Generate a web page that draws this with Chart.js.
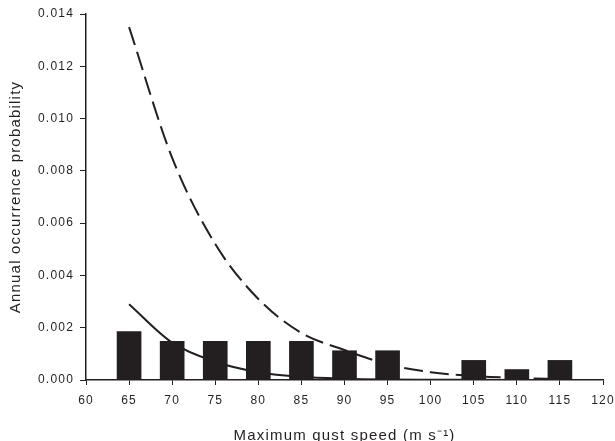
<!DOCTYPE html>
<html>
<head>
<meta charset="utf-8">
<script src="https://cdn.jsdelivr.net/npm/chart.js@4/dist/chart.umd.min.js"></script>
<style>
  html, body { margin: 0; padding: 0; background: #fff; }
  #wrap { width: 615px; height: 441px; }
</style>
</head>
<body>
<div id="wrap"><canvas id="c"></canvas></div>
<script>
const speeds = [65, 70, 75, 80, 85, 90, 95, 100, 105, 110, 115];
const observed = [0.00185, 0.00148, 0.00148, 0.00148, 0.00148, 0.00112, 0.00112, 0, 0.00075, 0.0004, 0.00075];
const solidCurve = [0.0029, 0.00143, 0.0007, 0.0003, 0.00012, 0.00005, 0.00002, 0.00001, 0.000005, 0.000002, 0.000001];
const dashedCurve = [0.0135, 0.0085, 0.0052, 0.0031, 0.0018, 0.00115, 0.0006, 0.0003, 0.00015, 0.00008, 0.00003];
const xTicks = [60, 65, 70, 75, 80, 85, 90, 95, 100, 105, 110, 115, 120];
const yTicks = [0, 0.002, 0.004, 0.006, 0.008, 0.010, 0.012, 0.014];

const ink = '#231f20';
const pts = vals => speeds.map((s, i) => ({ x: s, y: vals[i] }));

Chart.defaults.font.family = '"Liberation Sans", Arial, sans-serif';
Chart.defaults.color = ink;

// the original lettering is set wide
const wideText = {
    id: 'wideText',
    beforeUpdate: chart => { chart.ctx.letterSpacing = '1.2px'; },
    beforeLayout: chart => { chart.ctx.letterSpacing = '1.2px'; },
    beforeDraw: chart => { chart.ctx.letterSpacing = '1.2px'; }
};

new Chart(document.getElementById('c'), {
    type: 'bar',
    data: {
        datasets: [
            { type: 'line', data: pts(dashedCurve), borderColor: ink, borderWidth: 2, borderDash: [19, 7],
              pointRadius: 0, fill: false, cubicInterpolationMode: 'monotone', order: 0 },
            { type: 'line', data: pts(solidCurve), borderColor: ink, borderWidth: 2,
              pointRadius: 0, fill: false, cubicInterpolationMode: 'monotone', order: 1 },
            { type: 'bar', data: pts(observed), backgroundColor: ink, barThickness: 24, order: 2 }
        ]
    },
    plugins: [wideText],
    options: {
        responsive: true,
        maintainAspectRatio: false,
        animation: false,
        layout: { padding: { top: 14, right: 12, left: 0, bottom: 0 } },
        plugins: { legend: { display: false }, tooltip: { enabled: false } },
        scales: {
            x: {
                type: 'linear', min: 60, max: 120, offset: false,
                afterBuildTicks: s => { s.ticks = xTicks.map(v => ({ value: v })); },
                afterFit: s => { s.height = 61; s.paddingLeft = 0; s.paddingRight = 0; },
                grid: { offset: false, drawOnChartArea: false, tickLength: 5, color: ink, lineWidth: 1 },
                border: { color: ink, width: 1.5 },
                ticks: { font: { size: 12 }, padding: 8, maxRotation: 0 },
                title: { display: true, text: 'Maximum gust speed (m s\u207B\u00B9)', font: { size: 15 }, padding: { top: 6, bottom: -4 } }
            },
            y: {
                min: 0, max: 0.014,
                afterBuildTicks: s => { s.ticks = yTicks.map(v => ({ value: v })); },
                afterFit: s => { s.width = 86; },
                grid: { drawOnChartArea: false, tickLength: 6, color: ink, lineWidth: 1 },
                border: { color: ink, width: 1.5 },
                ticks: { font: { size: 12 }, padding: 6, callback: v => v.toFixed(3) },
                title: { display: true, text: 'Annual occurrence probability', font: { size: 15 }, padding: { top: 7, bottom: 2 } }
            }
        }
    }
});
</script>
</body>
</html>
